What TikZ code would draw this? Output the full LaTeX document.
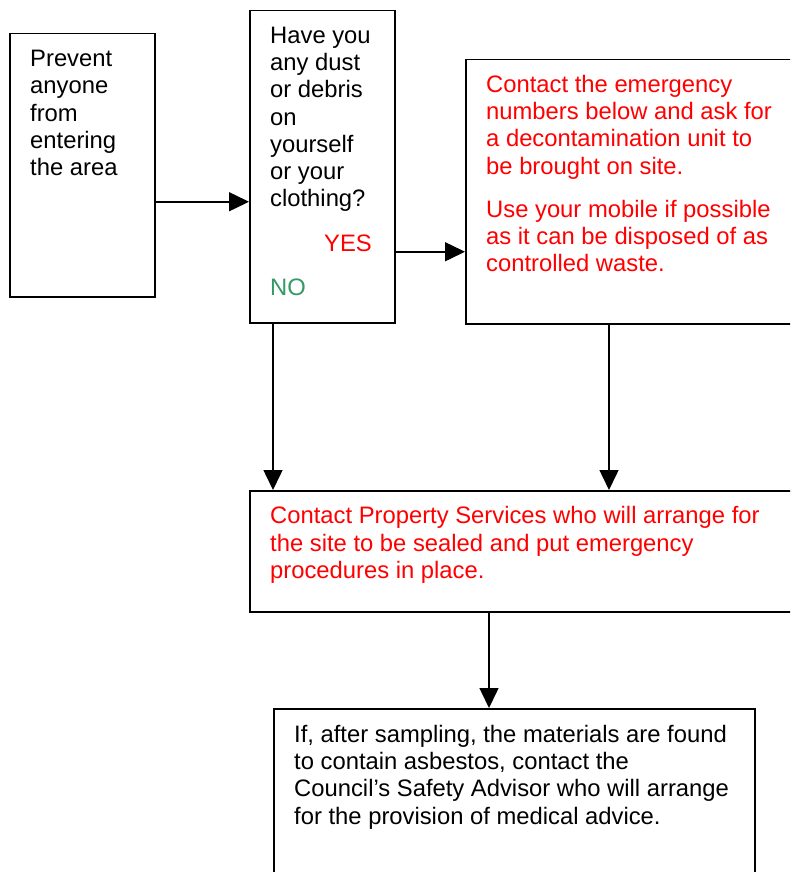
\documentclass[tikz,border=0pt]{standalone}
\usepackage{fontspec}
\setmainfont{Liberation Sans}
\usetikzlibrary{arrows.meta}
\definecolor{nored}{RGB}{255,0,0}
\definecolor{nogreen}{RGB}{51,153,102}
\tikzset{
  box/.style={draw, line width=1.5pt, rectangle, anchor=north west, inner sep=0pt},
  txt/.style={anchor=north west, inner sep=0pt, align=left, font=\fontsize{23.8}{27.3}\selectfont},
  arr/.style={line width=1.5pt, -{Triangle[length=20pt,width=19pt]}}
}
\begin{document}
\begin{tikzpicture}[x=1pt,y=-1pt]
\useasboundingbox (0,0) rectangle (790,872);
\clip (0,0) rectangle (790,872);
\fill[white] (0,0) rectangle (790,872);
% boxes
\node[box, minimum width=145pt, minimum height=263pt] (A) at (9,33) {};
\node[box, minimum width=145pt, minimum height=312pt] (B) at (249,10) {};
\node[box, minimum width=340pt, minimum height=264pt] (C) at (465,59) {};
\node[box, minimum width=560pt, minimum height=121pt] (D) at (249,490) {};
\node[box, minimum width=481pt, minimum height=200pt] (E) at (273,708) {};
% texts
\node[txt] (tA) at (30,47.1) {\strut Prevent\\anyone\\from\\entering\\the area};
\node[txt] (tB) at (270,23.8) {\strut Have you\\any dust\\or debris\\on\\yourself\\or your\\clothing?};
\node[txt, anchor=base east, text=nored] (yes) at (372,251.7) {YES};
\node[txt, anchor=base west, text=nogreen] (no) at (270,295) {NO};
\node[txt, text=nored] (tC1) at (486,72.8) {\strut Contact the emergency\\numbers below and ask for\\a decontamination unit to\\be brought on site.};
\node[txt, text=nored] (tC2) at (486,197.8) {\strut Use your mobile if possible\\as it can be disposed of as\\controlled waste.};
\node[txt, text=nored] (tD) at (270,504.4) {\strut Contact Property Services who will arrange for\\the site to be sealed and put emergency\\procedures in place.};
\node[txt] (tE) at (294,722.8) {\strut If, after sampling, the materials are found\\to contain asbestos, contact the\\Council’s Safety Advisor who will arrange\\for the provision of medical advice.};
% connectors
\coordinate (a1) at ([yshift=-36.5pt]A.east);
\draw[arr] (a1) -- (a1 -| B.west);
\coordinate (b1) at ([yshift=-85pt]B.east);
\draw[arr] (b1) -- (b1 -| C.west);
\coordinate (b2) at ([xshift=24pt]B.south west);
\draw[arr] (b2) -- (b2 |- D.north);
\coordinate (c1) at ([xshift=144pt]C.south west);
\draw[arr] (c1) -- (c1 |- D.north);
\coordinate (d1) at ([xshift=240pt]D.south west);
\draw[arr] (d1) -- (d1 |- E.north);
\end{tikzpicture}
\end{document}
